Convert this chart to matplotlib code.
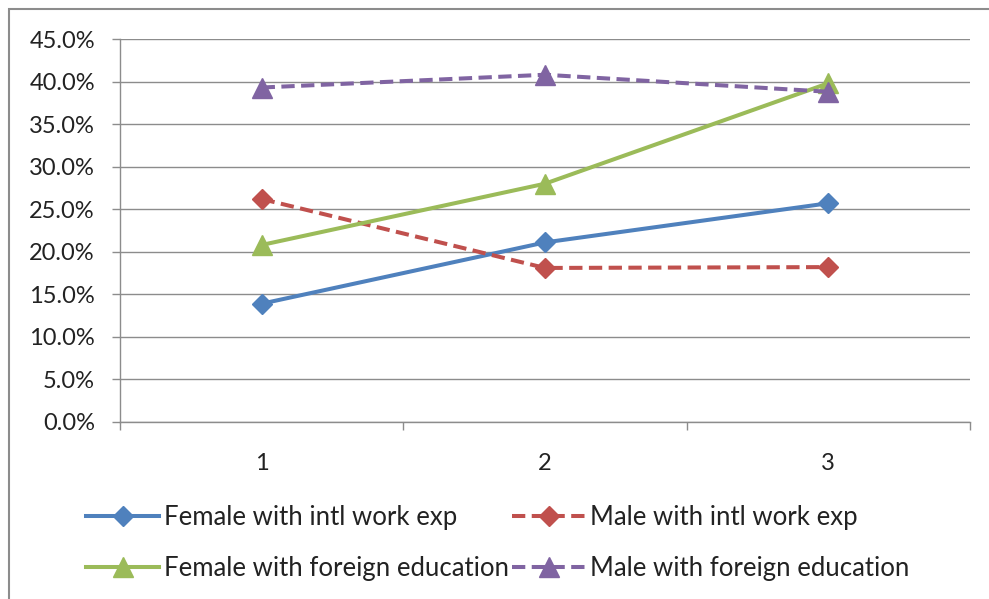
import matplotlib
matplotlib.use("Agg")
import matplotlib.pyplot as plt
from matplotlib.patches import Rectangle
from matplotlib.ticker import FuncFormatter, FixedLocator

plt.rcParams['font.family'] = ['Lato', 'DejaVu Sans']

categories = [1, 2, 3]
female_intl = [13.9, 21.1, 25.7]
male_intl = [26.2, 18.1, 18.2]
female_edu = [20.8, 28.0, 39.8]
male_edu = [39.3, 40.8, 38.8]
labels = ["Female with intl work exp", "Male with intl work exp",
          "Female with foreign education", "Male with foreign education"]

W, H = 989, 599
fig = plt.figure(figsize=(W / 100, H / 100), dpi=100)
ax = fig.add_axes([120 / W, 1 - 422 / H, 850 / W, 383 / H])

blue, red, green, purple = "#4F81BD", "#C0504D", "#9BBB59", "#8064A2"
lw = 2.9
dash = (3.3, 1.6)
l1, = ax.plot(categories, female_intl, color=blue, lw=lw, marker='D', ms=10, label=labels[0])
l2, = ax.plot(categories, male_intl, color=red, lw=lw, marker='D', ms=10, ls=(0, dash), label=labels[1])
l3, = ax.plot(categories, female_edu, color=green, lw=lw, marker='^', ms=14, label=labels[2])
l4, = ax.plot(categories, male_edu, color=purple, lw=lw, marker='^', ms=14, ls=(0, dash), label=labels[3])

ax.set_xlim(0.5, 3.5)
ax.set_ylim(0, 45)
ax.set_yticks([i * 5 for i in range(10)])
ax.yaxis.set_major_formatter(FuncFormatter(lambda v, p: f"{v:.1f}%"))
ax.grid(axis='y', color='#8C8C8C', lw=1.0)
ax.set_axisbelow(True)
ax.set_xticks(categories)
ax.set_xticklabels([str(c) for c in categories])
ax.xaxis.set_minor_locator(FixedLocator([0.5, 1.5, 2.5, 3.5]))
ax.tick_params(axis='x', which='major', length=0, pad=22, labelsize=17, colors='#222222')
ax.tick_params(axis='x', which='minor', length=6, width=1, color='#8C8C8C', direction='out')
ax.tick_params(axis='y', length=6, width=1, color='#8C8C8C', pad=12, labelsize=17, labelcolor='#222222')
for s in ['top', 'right']:
    ax.spines[s].set_visible(False)
for s in ['left', 'bottom']:
    ax.spines[s].set_color('#8C8C8C')
    ax.spines[s].set_linewidth(1.0)

leg = fig.legend([l1, l3, l2, l4], [labels[0], labels[2], labels[1], labels[3]],
                 ncol=2, loc='upper left', bbox_to_anchor=(86 / W, 1 - 505 / H),
                 frameon=False, fontsize=18.5, handlelength=2.85, handletextpad=0.2,
                 columnspacing=0.1, labelspacing=1.0, borderaxespad=0, borderpad=0)
for t in leg.get_texts():
    t.set_color('#222222')

fig.patches.append(Rectangle((9 / W, -0.02), 1.05, 1 - 9 / H + 0.02, transform=fig.transFigure,
                             fill=False, edgecolor='#8C8C8C', lw=1.5))

fig.savefig("out.png", dpi=100, facecolor='white')
